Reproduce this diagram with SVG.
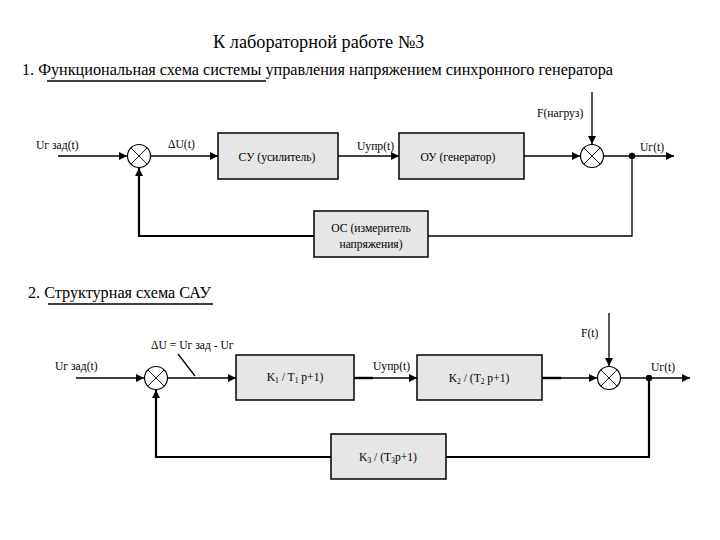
<svg xmlns="http://www.w3.org/2000/svg" width="720" height="540" viewBox="0 0 720 540">
<defs>
<style>
text{font-family:"Liberation Serif","Times New Roman","DejaVu Serif",serif;fill:#000;font-weight:normal}
.t1{font-size:18.3px}
.t2{font-size:16.2px}
.lb{font-size:11.6px}
.bx{fill:#e6e6e6;stroke:#000;stroke-width:1.5}
.ln{fill:none;stroke:#000;stroke-width:1.3}
.fb{fill:none;stroke:#000;stroke-width:2.2}
.sum{fill:#fff;stroke:#000;stroke-width:1.2}
.x{stroke:#000;stroke-width:0.9}
.ar{marker-end:url(#ah)}
</style>
<marker id="ah" markerUnits="userSpaceOnUse" markerWidth="9" markerHeight="8" refX="8" refY="4" orient="auto">
<path d="M0,0 L8,4 L0,8 Z" fill="#000"/>
</marker>
</defs>
<rect width="720" height="540" fill="#fff"/>

<g id="titles">
<text class="t1" x="213" y="48">К лабораторной работе №3</text>
<text class="t2" x="22" y="75">1. Функциональная схема системы управления напряжением синхронного генератора</text>
<line x1="47" y1="81" x2="266" y2="81" stroke="#000" stroke-width="1.3"/>
<text class="t2" x="28" y="298">2. Структурная схема САУ</text>
<line x1="48" y1="304" x2="213" y2="304" stroke="#000" stroke-width="1.3"/>
</g>

<g id="connectors">
<line class="ln ar" x1="58" y1="156" x2="127" y2="156"/>
<line class="ln ar" x1="151" y1="156" x2="218" y2="156"/>
<line class="ln ar" x1="338" y1="156" x2="399" y2="156"/>
<line class="ln ar" x1="524" y1="156" x2="580" y2="156"/>
<line class="ln ar" x1="592" y1="92" x2="592" y2="144"/>
<line class="ln ar" x1="604" y1="156" x2="674" y2="156"/>
<polyline class="ln" points="632,156 632,236 428,236"/>
<polyline class="fb ar" points="314,236 139,236 139,168"/>
<line class="ln ar" x1="76" y1="378" x2="144" y2="378"/>
<line class="ln ar" x1="168" y1="378" x2="236" y2="378"/>
<line class="ln" x1="178" y1="354" x2="195" y2="376"/>
<line stroke="#000" stroke-width="2.4" x1="354" y1="378" x2="373" y2="378"/>
<line class="ln ar" x1="373" y1="378" x2="417" y2="378"/>
<line stroke="#000" stroke-width="2.4" x1="542" y1="378" x2="561" y2="378"/>
<line class="ln ar" x1="561" y1="378" x2="597" y2="378"/>
<line class="ln ar" x1="609" y1="313" x2="609" y2="366"/>
<line class="ln ar" x1="621" y1="378" x2="690" y2="378"/>
<polyline class="fb" points="649,378 649,457 446,457"/>
<polyline class="fb ar" points="331,457 156,457 156,390"/>
</g>

<g id="sum1">
<circle class="sum" cx="139" cy="156" r="11.5"/>
<line class="x" x1="130.9" y1="147.9" x2="147.1" y2="164.1"/>
<line class="x" x1="147.1" y1="147.9" x2="130.9" y2="164.1"/>
</g>
<g id="su">
<rect class="bx" x="218" y="133" width="120" height="46"/>
<text class="lb" x="277" y="161" text-anchor="middle">СУ (усилитель)</text>
</g>
<g id="ou">
<rect class="bx" x="399" y="133" width="125" height="46"/>
<text class="lb" x="458" y="161" text-anchor="middle">ОУ (генератор)</text>
</g>
<g id="sum2">
<circle class="sum" cx="592" cy="156" r="11.5"/>
<line class="x" x1="583.9" y1="147.9" x2="600.1" y2="164.1"/>
<line class="x" x1="600.1" y1="147.9" x2="583.9" y2="164.1"/>
</g>
<g id="dot1"><circle cx="632" cy="156" r="3.2" fill="#000"/></g>
<g id="os">
<rect class="bx" x="314" y="211" width="114" height="46"/>
<text class="lb" x="371" y="232" text-anchor="middle">ОС (измеритель</text>
<text class="lb" x="371" y="248" text-anchor="middle">напряжения)</text>
</g>

<g id="labels1">
<text class="lb" x="36" y="149">Uг зад(t)</text>
<text class="lb" x="168" y="148">ΔU(t)</text>
<text class="lb" x="357" y="150">Uупр(t)</text>
<text class="lb" x="537" y="117">F(нагруз)</text>
<text class="lb" x="640" y="151">Uг(t)</text>
</g>

<g id="sum3">
<circle class="sum" cx="156" cy="378" r="11.5"/>
<line class="x" x1="147.9" y1="369.9" x2="164.1" y2="386.1"/>
<line class="x" x1="164.1" y1="369.9" x2="147.9" y2="386.1"/>
</g>
<g id="k1">
<rect class="bx" x="236" y="355" width="118" height="45"/>
<text class="lb" x="295" y="381" text-anchor="middle">K<tspan font-size="7.5" dy="2">1</tspan><tspan dy="-2"> / T</tspan><tspan font-size="7.5" dy="2">1</tspan><tspan dy="-2"> p+1)</tspan></text>
</g>
<g id="k2">
<rect class="bx" x="417" y="355" width="125" height="45"/>
<text class="lb" x="479" y="382" text-anchor="middle">K<tspan font-size="7.5" dy="2">2</tspan><tspan dy="-2"> / (T</tspan><tspan font-size="7.5" dy="2">2</tspan><tspan dy="-2"> p+1)</tspan></text>
</g>
<g id="sum4">
<circle class="sum" cx="609" cy="378" r="11.5"/>
<line class="x" x1="600.9" y1="369.9" x2="617.1" y2="386.1"/>
<line class="x" x1="617.1" y1="369.9" x2="600.9" y2="386.1"/>
</g>
<g id="dot2"><circle cx="649" cy="378" r="3.2" fill="#000"/></g>
<g id="k3">
<rect class="bx" x="331" y="434" width="115" height="45"/>
<text class="lb" x="388" y="461" text-anchor="middle">K<tspan font-size="7.5" dy="2">3</tspan><tspan dy="-2"> / (T</tspan><tspan font-size="7.5" dy="2">3</tspan><tspan dy="-2">p+1)</tspan></text>
</g>

<g id="labels2">
<text class="lb" x="151" y="349">ΔU = Uг зад - Uг</text>
<text class="lb" x="55" y="370">Uг зад(t)</text>
<text class="lb" x="373" y="370">Uупр(t)</text>
<text class="lb" x="581" y="337">F(t)</text>
<text class="lb" x="651" y="371">Uг(t)</text>
</g>
</svg>
